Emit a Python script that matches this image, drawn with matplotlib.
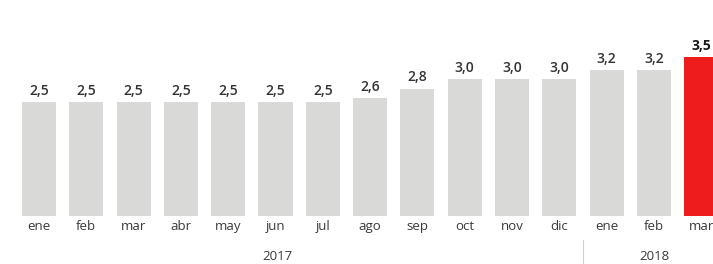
import matplotlib.pyplot as plt

# ================================
# DATA
# ================================
months = ["ene", "feb", "mar", "abr", "may", "jun", "jul", "ago", "sep",
          "oct", "nov", "dic", "ene", "feb", "mar"]
values = [2.5, 2.5, 2.5, 2.5, 2.5, 2.5, 2.5, 2.6, 2.8, 3.0, 3.0, 3.0, 3.2, 3.2, 3.5]
years = ["2017", "2018"]

plt.rcParams["font.family"] = ["Open Sans", "DejaVu Sans"]

# ================================
# FIGURE
# ================================
fig = plt.figure(figsize=(7.13, 2.64), dpi=100)
ax = fig.add_axes([0, 0, 1, 1])

x = list(range(len(values)))
colors = ["#d9d9d7"] * (len(values) - 1) + ["#ee1c1c"]
ax.bar(x, values, width=0.72, color=colors, edgecolor="none")

for i, v in enumerate(values):
    last = i == len(values) - 1
    ax.annotate(f"{v:.1f}".replace(".", ","), (i, v), xytext=(0, 3),
                textcoords="offset points", ha="center", va="bottom",
                fontsize=10, fontweight="bold" if last else "semibold",
                color="#1a1a1a" if last else "#333333")
    ax.text(i, -0.24, months[i], ha="center", va="center",
            fontsize=9.5, color="#3a3a3a")

# year labels + separator
ax.text(5.05, -0.9, years[0], ha="center", va="center", fontsize=9.5, color="#3a3a3a")
ax.text(13.0, -0.9, years[1], ha="center", va="center", fontsize=9.5, color="#3a3a3a")
ax.plot([11.5, 11.5], [-0.53, -1.06], color="#d0d0d0", lw=0.8)

ax.set_xlim(-0.8245, 14.25)
ax.set_ylim(-1.055, 4.747)
ax.axis("off")

fig.savefig("out.png", dpi=100)
